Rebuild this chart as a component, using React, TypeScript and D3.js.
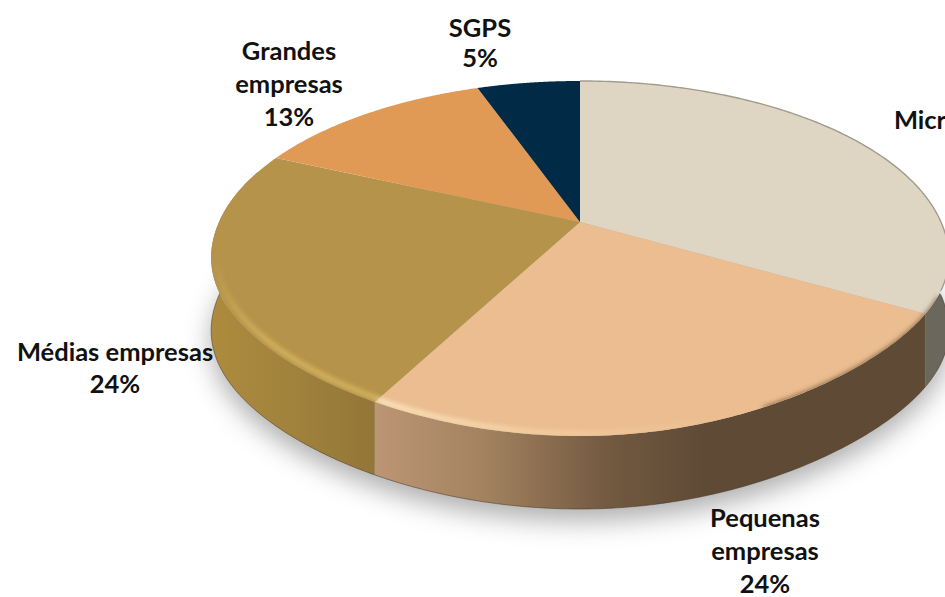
import React from "react";
import * as d3 from "d3";

const categories = ["Micro empresas", "Pequenas empresas", "Médias empresas", "Grandes empresas", "SGPS"];
const shares = [33.7, 24.0, 24.0, 12.8, 5.5];
const topColors = ["#dfd5c3", "#ebbd90", "#b5934a", "#e09a55", "#012a47"];
const labelLines = [
  ["Micro empresas", "34%"],
  ["Pequenas", "empresas", "24%"],
  ["Médias empresas", "24%"],
  ["Grandes", "empresas", "13%"],
  ["SGPS", "5%"],
];
const labelCentres: [number, number][] = [[984, 122], [765, 520], [115, 354], [289, 53], [480, 30]];
const labelLeading = [32, 33, 32, 33, 30];

const W = 945, H = 597;
const apexX = 580, apexY = 222;
const persp = -0.2056, scaleY = 170, scaleX = 361, depth = 73;

const flattening = (a: number) => {
  if (a > Math.PI / 2 && a <= Math.PI) return 9 * Math.sin(2 * a) ** 2;
  if (a > Math.PI && a < (3 * Math.PI) / 2) return 6 * Math.sin(2 * a) ** 2;
  return 0;
};
const project = (a: number, r = 1, dy = 0): [number, number] => {
  const u = r * Math.sin(a), v = -r * Math.cos(a);
  const den = 1 + persp * v;
  return [apexX + (scaleX * u) / den, apexY + (scaleY * v) / den - r * flattening(a) + dy];
};
const line = d3.line<[number, number]>().curve(d3.curveLinear);
const arcPts = (a0: number, a1: number, r = 1, dy = 0) =>
  d3.range(0, 121).map((i) => project(a0 + ((a1 - a0) * i) / 120, r, dy));

const slices = d3.pie<number>().sort(null)(shares);
const topPath = (s: d3.PieArcDatum<number>) =>
  line([[apexX, apexY], ...arcPts(s.startAngle, s.endAngle)])! + "Z";
const wallPath = (a0: number, a1: number) =>
  line([...arcPts(a0, a1), ...arcPts(a1, a0, 1, depth)])! + "Z";
const wallFill = ["#6b675c", "url(#wallPeq)", "url(#wallMed)"];
const rimPts = arcPts(0, 2 * Math.PI);
const disc = line(rimPts)! + "Z";
const leftExtreme = 1.6 * Math.PI;

export default function App() {
  return (
    <svg width={W} height={H} viewBox={`0 0 ${W} ${H}`}
      style={{ position: "absolute", left: 0, top: 0, display: "block", background: "#fff" }}>
      <defs>
        <linearGradient id="wallPeq" gradientUnits="userSpaceOnUse" x1={375} x2={925} y1={0} y2={0}>
          <stop offset="0" stopColor="#bc9574" />
          <stop offset="0.2" stopColor="#a3825f" />
          <stop offset="0.42" stopColor="#735a41" />
          <stop offset="0.6" stopColor="#5f4a36" />
          <stop offset="1" stopColor="#5f4a36" />
        </linearGradient>
        <linearGradient id="wallMed" gradientUnits="userSpaceOnUse" x1={211} x2={380} y1={0} y2={0}>
          <stop offset="0" stopColor="#ad8b3e" />
          <stop offset="0.5" stopColor="#a0823c" />
          <stop offset="1" stopColor="#927538" />
        </linearGradient>
        <linearGradient id="bevelPeq" gradientUnits="userSpaceOnUse" x1={375} x2={720} y1={0} y2={0}>
          <stop offset="0" stopColor="#fff3cf" />
          <stop offset="0.45" stopColor="#f6d5a6" />
          <stop offset="1" stopColor="#ebbd90" />
        </linearGradient>
        <linearGradient id="bevelMed" gradientUnits="userSpaceOnUse" x1={0} x2={0} y1={260} y2={345}>
          <stop offset="0" stopColor="#b5934a" />
          <stop offset="1" stopColor="#dcbc62" />
        </linearGradient>
        <filter id="soft" x="-20%" y="-20%" width="140%" height="140%">
          <feGaussianBlur stdDeviation="2.5" />
        </filter>
        <filter id="shadow" x="-20%" y="-20%" width="140%" height="140%">
          <feGaussianBlur stdDeviation="13" />
        </filter>
        <clipPath id="topClip"><path d={disc} /></clipPath>
      </defs>

      <path d={line(arcPts(0, 2 * Math.PI, 1.0, depth + 12))! + "Z"} fill="#8d8d8d" opacity={0.7} filter="url(#shadow)" />

      {slices.slice(0, 3).map((s, i) => (
        <path key={categories[i]} d={wallPath(s.startAngle, i === 2 ? leftExtreme : s.endAngle)} fill={wallFill[i]} />
      ))}
      <path d={line(arcPts(Math.PI * 0.5, leftExtreme, 1, depth))!} fill="none" stroke="#4a3a2a" strokeWidth={1} opacity={0.55} />

      {slices.map((s, i) => (
        <path key={categories[i]} d={topPath(s)} fill={topColors[i]} />
      ))}

      <g clipPath="url(#topClip)">
        <path d={line(arcPts(slices[2].startAngle, leftExtreme, 0.985))!} fill="none" stroke="url(#bevelMed)" strokeWidth={4} filter="url(#soft)" />
        <path d={line(arcPts(slices[1].startAngle + 0.45, slices[1].endAngle, 0.99))!} fill="none" stroke="url(#bevelPeq)" strokeWidth={4} filter="url(#soft)" />
        <path d={line(arcPts(slices[1].startAngle - 0.1, slices[1].startAngle + 0.6, 1.005))!} fill="none" stroke="#6f5840" strokeWidth={4} filter="url(#soft)" />
      </g>
      <path d={line(arcPts(0, slices[0].endAngle - 0.14))!} fill="none" stroke="#a39c8e" strokeWidth={1.4} />

      <g fontFamily="Lato, 'Open Sans', sans-serif" fontWeight={700} fontSize={25.5} fill="#111" textAnchor="middle">
        {labelLines.map((lines, i) => (
          <text key={categories[i]} x={labelCentres[i][0]} y={labelCentres[i][1]}>
            {lines.map((t, j) => (
              <tspan key={t} x={labelCentres[i][0]} y={labelCentres[i][1] + j * labelLeading[i]} dominantBaseline="middle">{t}</tspan>
            ))}
          </text>
        ))}
      </g>
    </svg>
  );
}
